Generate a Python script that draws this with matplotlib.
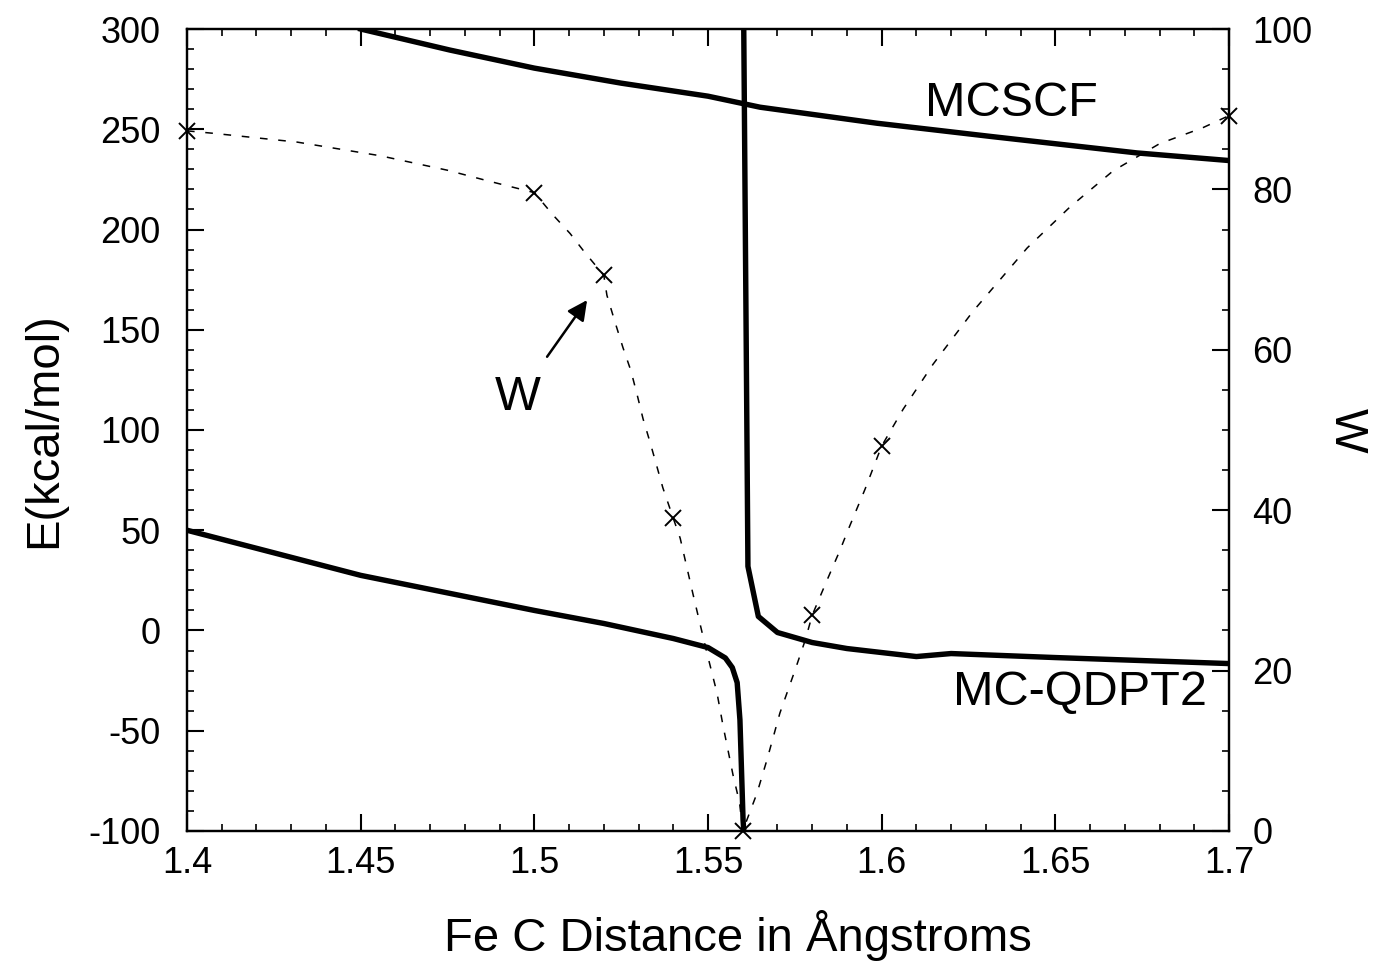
import numpy as np
import matplotlib.pyplot as plt
from matplotlib.ticker import MultipleLocator

plt.rcParams['font.family'] = ['Liberation Sans', 'DejaVu Sans']
plt.rcParams['axes.unicode_minus'] = False

# MCSCF energy (kcal/mol)
mcscf_x = [1.45, 1.4757, 1.50, 1.525, 1.55, 1.565, 1.5987, 1.632, 1.6735, 1.70]
mcscf_e = [300, 289.5, 280.5, 273, 266.5, 261, 253, 246.3, 238.2, 234.4]

# MC-QDPT2 energy, left branch (below the singularity)
qdpt_left_x = [1.40, 1.45, 1.50, 1.52, 1.54, 1.55, 1.555, 1.557, 1.5584, 1.5592, 1.5601, 1.5603]
qdpt_left_e = [50, 27.5, 10, 3.5, -4, -8.5, -13.7, -18.5, -26, -44.6, -94.5, -100]

# MC-QDPT2 energy, right branch (above the singularity)
qdpt_right_x = [1.5603, 1.5612, 1.5615, 1.5645, 1.570, 1.580, 1.590, 1.600, 1.610, 1.620, 1.650, 1.700]
qdpt_right_e = [300, 100, 32, 7, -1, -6, -9, -11, -13, -11.5, -13.5, -16.5]

# W (right axis): computed points
w_pts_x = [1.40, 1.50, 1.52, 1.54, 1.56, 1.58, 1.60, 1.70]
w_pts_y = [87.3, 79.6, 69.3, 39.0, 0.0, 26.9, 48.0, 89.2]

# W dashed guide curve
w_line_x = [1.40, 1.4075, 1.4317, 1.4556, 1.4749, 1.4872, 1.50, 1.5054, 1.5103, 1.5146, 1.52,
            1.5209, 1.5232, 1.5255, 1.5278, 1.5296, 1.5313, 1.5333, 1.535, 1.537, 1.54,
            1.542, 1.5457, 1.5497, 1.5526, 1.5543, 1.5572, 1.5591, 1.56,
            1.5641, 1.567, 1.5707, 1.5751, 1.578, 1.58, 1.5843, 1.588, 1.5903, 1.5952, 1.60,
            1.6062, 1.6148, 1.6263, 1.6419, 1.6542, 1.6666, 1.680, 1.6925, 1.70]
w_line_y = [87.3, 87.0, 85.9, 84.2, 82.4, 81.0, 79.6, 76.8, 74.5, 72.1, 69.3,
            66.8, 63.5, 60.3, 57.4, 54.4, 51.4, 48.5, 45.9, 42.8, 39.0,
            36.5, 29.5, 22.2, 17.2, 13.2, 7.0, 3.5, 0.0,
            4.7, 8.9, 14.7, 20.1, 23.8, 26.9, 31.3, 35.0, 37.5, 42.6, 48.0,
            52.6, 58.2, 64.8, 72.7, 77.8, 82.3, 85.7, 87.7, 89.2]

fig = plt.figure(figsize=(13.73, 9.61), dpi=100)
ax = fig.add_axes([0.1362, 0.1353, 0.8951 - 0.1362, 0.9698 - 0.1353])
ax2 = ax.twinx()

ax.plot(mcscf_x, mcscf_e, color='black', lw=3.9, solid_joinstyle='round')
ax.plot(qdpt_left_x, qdpt_left_e, color='black', lw=3.9, solid_joinstyle='round')
ax.plot(qdpt_right_x, qdpt_right_e, color='black', lw=3.9, solid_joinstyle='round')

ax2.plot(w_line_x, w_line_y, color='black', lw=1.1, dashes=(5, 7))
ax2.plot(w_pts_x, w_pts_y, 'x', color='black', ms=12, mew=1.4, clip_on=False)

ax.set_xlim(1.4, 1.7)
ax.set_ylim(-100, 300)
ax2.set_ylim(0, 100)

ax.xaxis.set_major_locator(MultipleLocator(0.05))
ax.xaxis.set_minor_locator(MultipleLocator(0.01))
ax.yaxis.set_major_locator(MultipleLocator(50))
ax.yaxis.set_minor_locator(MultipleLocator(10))
ax2.yaxis.set_major_locator(MultipleLocator(20))
ax2.yaxis.set_minor_locator(MultipleLocator(5))
ax.set_xticks([1.4, 1.45, 1.5, 1.55, 1.6, 1.65, 1.7])
ax.set_xticklabels(['1.4', '1.45', '1.5', '1.55', '1.6', '1.65', '1.7'])

ax.tick_params(axis='x', which='both', direction='in', top=True, labelsize=26, pad=11)
ax.tick_params(axis='y', which='both', direction='in', right=False, labelsize=26, pad=19)
ax2.tick_params(axis='y', which='both', direction='in', labelsize=26, pad=17)
for a in (ax, ax2):
    a.tick_params(which='major', length=12, width=1.5)
    a.tick_params(which='minor', length=5, width=1.2)
    for s in a.spines.values():
        s.set_linewidth(1.6)

ax.set_xlabel('Fe C Distance in Ångstroms', fontsize=34, va='center')
ax.xaxis.set_label_coords(0.529, -0.13)
ax.set_ylabel('E(kcal/mol)', fontsize=34, va='center')
ax.yaxis.set_label_coords(-0.137, 0.5)
ax2.set_ylabel('W', fontsize=34, rotation=270, va='center', ha='center')
ax2.yaxis.set_label_coords(1.113, 0.5)

ax.text(1.6375, 263, 'MCSCF', fontsize=35, ha='center', va='center')
ax.text(1.6571, -31, 'MC-QDPT2', fontsize=35, ha='center', va='center')
ax.annotate('W', xy=(1.5152, 164.8), xytext=(1.4953, 116), fontsize=35,
            ha='center', va='center',
            arrowprops=dict(arrowstyle='-|>', color='black', lw=1.8,
                            mutation_scale=30, shrinkA=14, shrinkB=0))

fig.savefig('out.png', dpi=100)
